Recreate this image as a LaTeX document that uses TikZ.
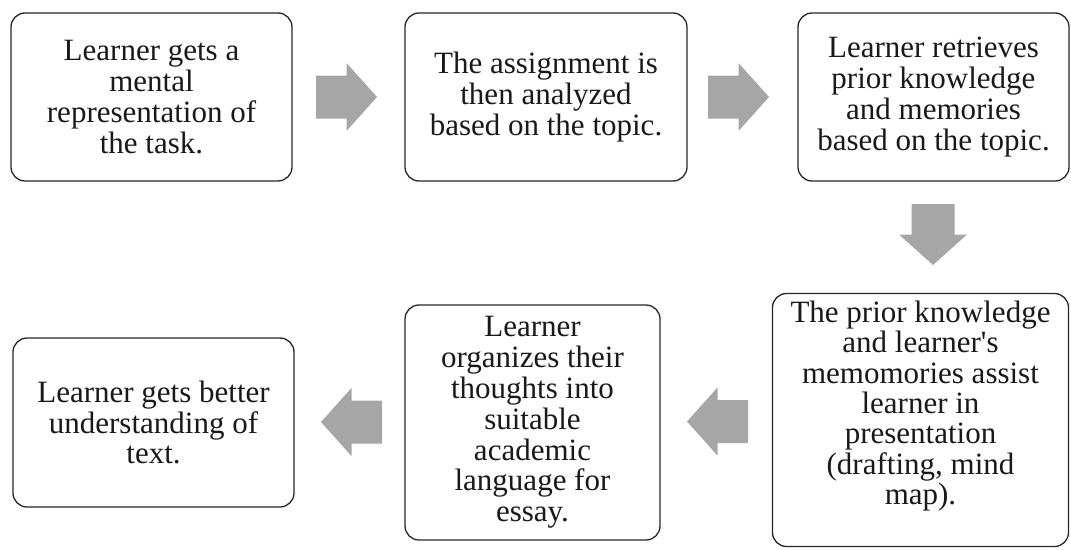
\documentclass[tikz,border=0pt]{standalone}
\usepackage{fontspec}
\setmainfont{Liberation Serif}
\newcommand\blockarrow[2]{%
  \fill[blk, shift={#1}, rotate=#2] (-30.5,-21.5) -- (0,-21.5) -- (0,-34) -- (30.5,0) -- (0,34) -- (0,21.5) -- (-30.5,21.5) -- cycle;}
\begin{document}
\begin{tikzpicture}[x=1pt,y=-1pt,
  box/.style={draw=black!85, line width=1.3pt, rounded corners=14pt, align=center,
    font=\fontsize{31}{30.8}\selectfont, text=black!90, inner sep=0pt},
  txt/.style={align=center, font=\fontsize{31}{30.3}\selectfont, text=black!90, inner sep=0pt},
  blk/.style={fill=black!35, draw=none}]
\useasboundingbox (0,0) rectangle (1071,549);
\node[box, minimum width=281pt, minimum height=168pt] (b1) at (151.5,97)
  {Learner gets a\\mental\\representation of\\the task.};
\node[box, minimum width=282pt, minimum height=168pt] (b2) at (546,97)
  {The assignment is\\then analyzed\\based on the topic.};
\node[box, minimum width=271pt, minimum height=168pt] (b3) at (933.5,97)
  {Learner retrieves\\prior knowledge\\and memories\\based on the topic.};
\node[box, minimum width=296pt, minimum height=253pt,
  label={[txt, name=t6, yshift=14pt]center:The prior knowledge\\and learner\textquotesingle s\\memomories assist\\learner in\\presentation\\(drafting, mind\\map).}] (b6) at (920.5,420) {};
\node[box, minimum width=255pt, minimum height=235pt] (b5) at (532.5,422.5)
  {Learner\\organizes their\\thoughts into\\suitable\\academic\\language for\\essay.};
\node[box, minimum width=281pt, minimum height=169pt] (b4) at (153.5,422.5)
  {Learner gets better\\understanding of\\text.};
\coordinate (a12) at (346.5,97);
\coordinate (a23) at (738.5,97);
\coordinate (a36) at (933,234.5);
\coordinate (a65) at (717.5,421.5);
\coordinate (a54) at (351.5,422);
\blockarrow{(a12)}{0}
\blockarrow{(a23)}{0}
\blockarrow{(a36)}{-90}
\blockarrow{(a65)}{180}
\blockarrow{(a54)}{180}
\end{tikzpicture}
\end{document}
